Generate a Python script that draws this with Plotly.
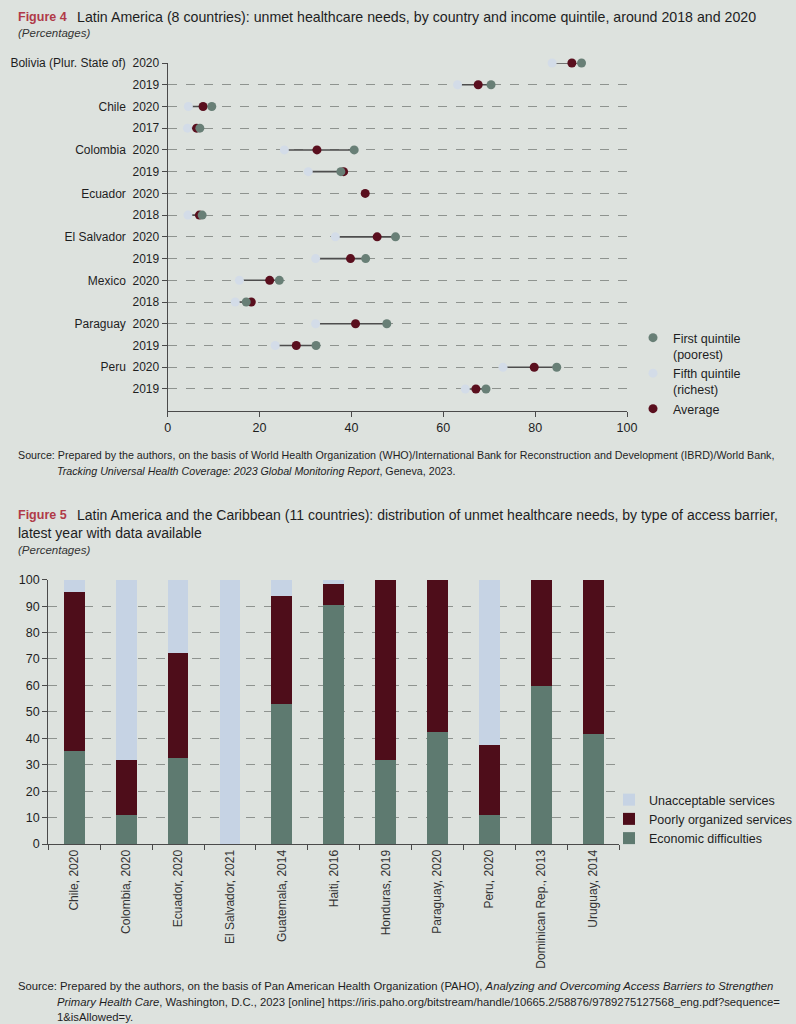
import plotly.graph_objects as go

W, H = 796, 1024

# ---------------- Figure 4 data ----------------
countries4 = ["Bolivia (Plur. State of)", "", "Chile", "", "Colombia", "", "Ecuador", "",
              "El Salvador", "", "Mexico", "", "Paraguay", "", "Peru", ""]
years4 = ["2020", "2019", "2020", "2017", "2020", "2019", "2020", "2018",
          "2020", "2019", "2020", "2018", "2020", "2019", "2020", "2019"]
first_quintile = [90.1, 70.4, 9.6, 7.0, 40.6, 37.7, None, 7.5,
                  49.6, 43.1, 24.3, 17.1, 47.7, 32.3, 84.7, 69.3]
fifth_quintile = [83.7, 63.1, 4.5, 4.3, 25.4, 30.6, None, 4.4,
                  36.5, 32.2, 15.6, 14.7, 32.2, 23.4, 73.0, 64.8]
average = [88.0, 67.6, 7.7, 6.3, 32.5, 38.3, 43.0, 6.9,
           45.6, 39.8, 22.2, 18.2, 40.9, 28.0, 79.8, 67.1]
x_ticks4 = [0, 20, 40, 60, 80, 100]

# ---------------- Figure 5 data ----------------
categories5 = ["Chile, 2020", "Colombia, 2020", "Ecuador, 2020", "El Salvador, 2021",
               "Guatemala, 2014", "Haiti, 2016", "Honduras, 2019", "Paraguay, 2020",
               "Peru, 2020", "Dominican Rep., 2013", "Uruguay, 2014"]
economic = [35.2, 11.0, 32.4, 0, 53.0, 90.4, 31.8, 42.3, 11.0, 59.7, 41.6]
poorly_organized = [60.0, 20.8, 39.8, 0, 40.8, 8.0, 68.2, 57.7, 26.3, 40.3, 58.4]
unacceptable = [4.8, 68.2, 27.8, 100, 6.2, 1.6, 0, 0, 62.7, 0, 0]

# ---------------- styling ----------------
BG = "#dde2de"
FONT = "Liberation Sans, Arial, sans-serif"
TXT = "#1e1e1e"
C_FIRST = "#687f76"
C_FIFTH = "#d3dce8"
C_AVG = "#5a0f1e"
C_ECON = "#5e7a70"
C_POOR = "#4e0d1a"
C_UNACC = "#c6d3e4"
GRID = "#8e938f"
AXIS = "#4a4a4a"
RED = "#b03a48"


def px(x):
    return x / W


def py(y):
    return 1 - y / H


rows = list(range(len(years4)))
labels4 = [(c + "  " + y) if c else y for c, y in zip(countries4, years4)]

fig = go.Figure()

# connector lines (min to max per row)
lx, ly = [], []
for r, a, b, c in zip(rows, first_quintile, fifth_quintile, average):
    vals = [v for v in (a, b, c) if v is not None]
    if len(vals) > 1:
        lx += [min(vals), max(vals), None]
        ly += [r, r, None]
fig.add_trace(go.Scatter(x=lx, y=ly, mode="lines", line=dict(color="#4d4d4d", width=1.6),
                         showlegend=False, hoverinfo="skip", cliponaxis=False,
                         xaxis="x", yaxis="y"))

fig.add_trace(go.Scatter(x=fifth_quintile, y=rows, mode="markers", name="Fifth quintile<br>(richest)",
                         marker=dict(color=C_FIFTH, size=9), cliponaxis=False,
                         legend="legend", legendrank=2, xaxis="x", yaxis="y"))
fig.add_trace(go.Scatter(x=average, y=rows, mode="markers", name="Average",
                         marker=dict(color=C_AVG, size=9), cliponaxis=False,
                         legend="legend", legendrank=3, xaxis="x", yaxis="y"))
fig.add_trace(go.Scatter(x=first_quintile, y=rows, mode="markers", name="First quintile<br>(poorest)",
                         marker=dict(color=C_FIRST, size=9), cliponaxis=False,
                         legend="legend", legendrank=1, xaxis="x", yaxis="y"))

# bars
fig.add_trace(go.Bar(x=categories5, y=economic, name="Economic difficulties", marker_color=C_ECON,
                     marker_line_width=0, width=0.4, legend="legend2", legendrank=3,
                     xaxis="x2", yaxis="y2"))
fig.add_trace(go.Bar(x=categories5, y=poorly_organized, name="Poorly organized services", marker_color=C_POOR,
                     marker_line_width=0, width=0.4, legend="legend2", legendrank=2,
                     xaxis="x2", yaxis="y2"))
fig.add_trace(go.Bar(x=categories5, y=unacceptable, name="Unacceptable services", marker_color=C_UNACC,
                     marker_line_width=0, width=0.4, legend="legend2", legendrank=1,
                     xaxis="x2", yaxis="y2"))

fig.update_layout(
    width=W, height=H, autosize=False,
    margin=dict(l=0, r=0, t=0, b=0, pad=0, autoexpand=False),
    paper_bgcolor=BG, plot_bgcolor=BG,
    font=dict(family=FONT, size=12, color=TXT),
    barmode="stack",
    xaxis=dict(domain=[px(167.7), px(627)], range=[0, 100], tickvals=x_ticks4,
               ticks="outside", ticklen=5, tickcolor=AXIS, showline=True, linecolor=AXIS,
               linewidth=1.2, showgrid=False, zeroline=False, anchor="y", automargin=False,
               tickfont=dict(size=12.5, color=TXT)),
    yaxis=dict(domain=[py(410.7), py(63)], range=[16, 0], tickvals=rows, ticktext=labels4,
               ticks="outside", ticklen=5, tickcolor=AXIS, showline=True, linecolor=AXIS,
               linewidth=1.2, showgrid=True, gridcolor=GRID, griddash="dash", gridwidth=0.8,
               zeroline=False, anchor="x", automargin=False, tickfont=dict(size=12, color=TXT)),
    xaxis2=dict(domain=[px(48.3), px(619.2)], type="category", range=[-0.5, 10.5],
                ticks="outside", ticklen=5, tickcolor=AXIS, tickson="boundaries",
                showline=True, linecolor=AXIS, linewidth=1.2, showgrid=False,
                tickangle=-90, anchor="y2", automargin=False,
                tickfont=dict(size=12, color="#333333")),
    yaxis2=dict(domain=[py(844), py(579.7)], range=[0, 100], dtick=10,
                ticks="outside", ticklen=5, tickcolor=AXIS, showline=True, linecolor=AXIS,
                linewidth=1.2, showgrid=True, gridcolor=GRID, griddash="dash", gridwidth=0.8,
                zeroline=False, anchor="x2", automargin=False, tickfont=dict(size=12.5, color=TXT)),
    legend=dict(x=px(633), y=py(323), xanchor="left", yanchor="top", bgcolor="rgba(0,0,0,0)",
                font=dict(size=12.5, color=TXT), valign="top", tracegroupgap=0,
                traceorder="normal"),
    legend2=dict(x=px(609), y=py(785), xanchor="left", yanchor="top", bgcolor="rgba(0,0,0,0)",
                 font=dict(size=12.5, color=TXT), tracegroupgap=0, traceorder="normal"),
    showlegend=True,
)

ann = []


def add_text(x, y, text, size=12, color=TXT, anchor="left"):
    ann.append(dict(x=px(x), y=py(y), xref="paper", yref="paper", text=text, showarrow=False,
                    xanchor=anchor, yanchor="middle", align="left",
                    font=dict(size=size, color=color)))


add_text(16, 17, "<b>Figure 4</b>", size=12.5, color=RED)
add_text(75, 17, "Latin America (8 countries): unmet healthcare needs, by country and income quintile, around 2018 and 2020", size=14.2)
add_text(16, 33, "<i>(Percentages)</i>", size=11.5, color="#333333")
add_text(16, 455, "Source: Prepared by the authors, on the basis of World Health Organization (WHO)/International Bank for Reconstruction and Development (IBRD)/World Bank,", size=10.7)
add_text(55, 471, "<i>Tracking Universal Health Coverage: 2023 Global Monitoring Report</i>, Geneva, 2023.", size=10.7)

add_text(16, 515, "<b>Figure 5</b>", size=12.5, color=RED)
add_text(75, 515, "Latin America and the Caribbean (11 countries): distribution of unmet healthcare needs, by type of access barrier,", size=14)
add_text(16, 533, "latest year with data available", size=14)
add_text(16, 550, "<i>(Percentages)</i>", size=11.5, color="#333333")
add_text(16, 986, "Source: Prepared by the authors, on the basis of Pan American Health Organization (PAHO), <i>Analyzing and Overcoming Access Barriers to Strengthen</i>", size=11.3)
add_text(55, 1002, "<i>Primary Health Care</i>, Washington, D.C., 2023 [online] https://iris.paho.org/bitstream/handle/10665.2/58876/9789275127568_eng.pdf?sequence=", size=11.3)
add_text(55, 1017, "1&isAllowed=y.", size=11.3)

fig.update_layout(annotations=ann)

fig.write_html("out.html", config={"displayModeBar": False},
               post_script="document.body.style.margin='0';")
